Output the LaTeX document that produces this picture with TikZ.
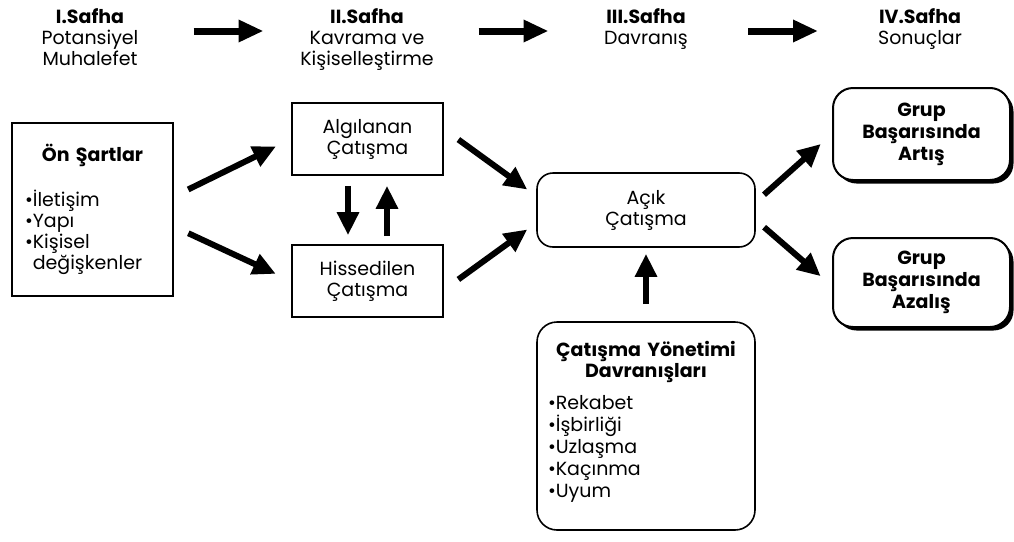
\documentclass[tikz,border=0pt]{standalone}
\usepackage{fontspec}
\setmainfont{Poppins}
\usepackage{tikz}
\usetikzlibrary{arrows.meta,calc,shadows}
\newcommand{\madde}{\textbullet}

\begin{document}
\begin{tikzpicture}[x=1pt,y=-1pt,
        font=\fontsize{19}{21}\selectfont,
        kutu/.style={draw, line width=1.6pt, inner sep=0pt, align=center},
        ykutu/.style={kutu, rounded corners=16pt},
        gkutu/.style={kutu, fill=white, line width=2pt, rounded corners=20pt,
            font=\fontsize{19}{22}\selectfont\bfseries,
            drop shadow={shadow xshift=3.5pt, shadow yshift=-3.5pt, fill=black, opacity=1}},
        baslik/.style={anchor=north, align=center, inner sep=0pt},
        ok/.style={line width=6pt, -{Triangle[length=23pt,width=21pt]}},
        ustok/.style={line width=7pt, -{Triangle[length=25pt,width=21pt]}}]
        \useasboundingbox (0,0) rectangle (1014,541);
        % safhalar
        \node[baslik] (h1) at (90,8) {\textbf{I.Safha}\\Potansiyel\\Muhalefet};
        \node[baslik] (h2) at (367,8) {\textbf{II.Safha}\\Kavrama ve\\Kişiselleştirme};
        \node[baslik] (h3) at (646,8) {\textbf{III.Safha}\\Davranış};
        \node[baslik] (h4) at (920,8) {\textbf{IV.Safha}\\Sonuçlar};
        \draw[ustok] ($(h1.north)!.5!(h2.north)+(-35,23)$) -- ($(h1.north)!.5!(h2.north)+(35,23)$);
        \draw[ustok] ($(h2.north)!.5!(h3.north)+(-28,23)$) -- ($(h2.north)!.5!(h3.north)+(42,23)$);
        \draw[ustok] ($(h3.north)!.5!(h4.north)+(-35,23)$) -- ($(h3.north)!.5!(h4.north)+(35,23)$);
        % kutular
        \node[kutu, minimum width=161pt, minimum height=173pt, text width=135pt, align=left] (on) at (92.5,209.5)
            {{\centering\bfseries Ön Şartlar\par}\vspace{22pt}\madde İletişim\\\madde Yapı\\\madde Kişisel\\\phantom{\madde}değişkenler};
        \node[kutu, minimum width=151pt, minimum height=72pt] (alg) at (367.5,139) {Algılanan\\Çatışma};
        \node[kutu, minimum width=151pt, minimum height=72pt] (his) at (367.5,281) {Hissedilen\\Çatışma};
        \node[ykutu, minimum width=218pt, minimum height=74pt] (acik) at (646,210) {Açık\\Çatışma};
        \node[ykutu, rounded corners=20pt, minimum width=218pt, minimum height=208pt, text width=196pt, align=left] (cym) at (646,426)
            {{\centering\bfseries Çatışma Yönetimi\\Davranışları\par}\vspace{10pt}\setlength{\baselineskip}{22pt}%
             \madde Rekabet\\\madde İşbirliği\\\madde Uzlaşma\\\madde Kaçınma\\\madde Uyum\\[-8pt]\mbox{}};
        \node[gkutu, minimum width=177pt, minimum height=92pt] (art) at (921.5,134) {Grup\\Başarısında\\Artış};
        \node[gkutu, minimum width=177pt, minimum height=89pt] (aza) at (921.5,282.5) {Grup\\Başarısında\\Azalış};
        % oklar
        \draw[ok, shorten <=16pt, shorten >=17pt] ([yshift=13pt]on.east) -- (alg.west);
        \draw[ok, shorten <=16pt, shorten >=17pt] ([yshift=-17pt]on.east) -- (his.west);
        \draw[ok, shorten <=10pt, shorten >=9pt] ([xshift=-19.5pt]alg.south) -- ([xshift=-19.5pt]his.north);
        \draw[ok, shorten <=8pt, shorten >=10pt] ([xshift=19.5pt]his.north) -- ([xshift=19.5pt]alg.south);
        \draw[ok, shorten <=18pt, shorten >=11pt] ([yshift=10pt]alg.east) -- ([yshift=14pt]acik.west);
        \draw[ok, shorten <=18pt, shorten >=11pt] ([yshift=-9pt]his.east) -- ([yshift=-13pt]acik.west);
        \draw[ok, shorten <=11pt, shorten >=15pt] ([yshift=8pt]acik.east) -- (art.west);
        \draw[ok, shorten <=11pt, shorten >=15pt] ([yshift=-10pt]acik.east) -- ([yshift=-3.5pt]aza.west);
        \draw[ok, shorten <=17pt, shorten >=6pt] (cym.north) -- (acik.south);
\end{tikzpicture}
\end{document}
